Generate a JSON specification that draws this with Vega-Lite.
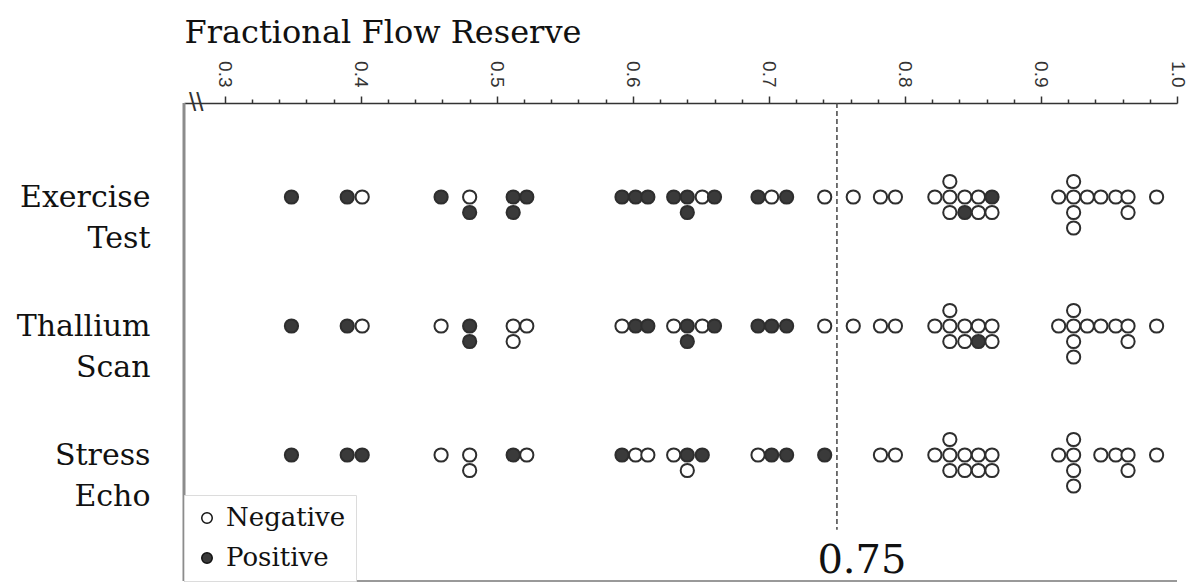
{
  "$schema": "https://vega.github.io/schema/vega-lite/v6.json",
  "autosize": "none",
  "width": 993,
  "height": 478,
  "padding": {"left": 184, "top": 103, "right": 11, "bottom": 2},
  "background": "white",
  "config": {"view": {"stroke": null}},
  "datasets": {
    "dots": [
      {"test": "Exercise Test", "ffr": 0.349, "level": 0, "result": "Positive"},
      {"test": "Exercise Test", "ffr": 0.390, "level": 0, "result": "Positive"},
      {"test": "Exercise Test", "ffr": 0.401, "level": 0, "result": "Negative"},
      {"test": "Exercise Test", "ffr": 0.459, "level": 0, "result": "Positive"},
      {"test": "Exercise Test", "ffr": 0.480, "level": 0, "result": "Negative"},
      {"test": "Exercise Test", "ffr": 0.480, "level": 1, "result": "Positive"},
      {"test": "Exercise Test", "ffr": 0.512, "level": 0, "result": "Positive"},
      {"test": "Exercise Test", "ffr": 0.522, "level": 0, "result": "Positive"},
      {"test": "Exercise Test", "ffr": 0.512, "level": 1, "result": "Positive"},
      {"test": "Exercise Test", "ffr": 0.592, "level": 0, "result": "Positive"},
      {"test": "Exercise Test", "ffr": 0.602, "level": 0, "result": "Positive"},
      {"test": "Exercise Test", "ffr": 0.611, "level": 0, "result": "Positive"},
      {"test": "Exercise Test", "ffr": 0.630, "level": 0, "result": "Positive"},
      {"test": "Exercise Test", "ffr": 0.640, "level": 0, "result": "Positive"},
      {"test": "Exercise Test", "ffr": 0.640, "level": 1, "result": "Positive"},
      {"test": "Exercise Test", "ffr": 0.651, "level": 0, "result": "Negative"},
      {"test": "Exercise Test", "ffr": 0.660, "level": 0, "result": "Positive"},
      {"test": "Exercise Test", "ffr": 0.692, "level": 0, "result": "Positive"},
      {"test": "Exercise Test", "ffr": 0.702, "level": 0, "result": "Negative"},
      {"test": "Exercise Test", "ffr": 0.713, "level": 0, "result": "Positive"},
      {"test": "Exercise Test", "ffr": 0.741, "level": 0, "result": "Negative"},
      {"test": "Exercise Test", "ffr": 0.762, "level": 0, "result": "Negative"},
      {"test": "Exercise Test", "ffr": 0.782, "level": 0, "result": "Negative"},
      {"test": "Exercise Test", "ffr": 0.793, "level": 0, "result": "Negative"},
      {"test": "Exercise Test", "ffr": 0.833, "level": -1, "result": "Negative"},
      {"test": "Exercise Test", "ffr": 0.822, "level": 0, "result": "Negative"},
      {"test": "Exercise Test", "ffr": 0.833, "level": 0, "result": "Negative"},
      {"test": "Exercise Test", "ffr": 0.844, "level": 0, "result": "Negative"},
      {"test": "Exercise Test", "ffr": 0.854, "level": 0, "result": "Negative"},
      {"test": "Exercise Test", "ffr": 0.864, "level": 0, "result": "Positive"},
      {"test": "Exercise Test", "ffr": 0.833, "level": 1, "result": "Negative"},
      {"test": "Exercise Test", "ffr": 0.844, "level": 1, "result": "Positive"},
      {"test": "Exercise Test", "ffr": 0.854, "level": 1, "result": "Negative"},
      {"test": "Exercise Test", "ffr": 0.864, "level": 1, "result": "Negative"},
      {"test": "Exercise Test", "ffr": 0.924, "level": -1, "result": "Negative"},
      {"test": "Exercise Test", "ffr": 0.913, "level": 0, "result": "Negative"},
      {"test": "Exercise Test", "ffr": 0.924, "level": 0, "result": "Negative"},
      {"test": "Exercise Test", "ffr": 0.934, "level": 0, "result": "Negative"},
      {"test": "Exercise Test", "ffr": 0.944, "level": 0, "result": "Negative"},
      {"test": "Exercise Test", "ffr": 0.955, "level": 0, "result": "Negative"},
      {"test": "Exercise Test", "ffr": 0.964, "level": 0, "result": "Negative"},
      {"test": "Exercise Test", "ffr": 0.924, "level": 1, "result": "Negative"},
      {"test": "Exercise Test", "ffr": 0.964, "level": 1, "result": "Negative"},
      {"test": "Exercise Test", "ffr": 0.924, "level": 2, "result": "Negative"},
      {"test": "Exercise Test", "ffr": 0.985, "level": 0, "result": "Negative"},

      {"test": "Thallium Scan", "ffr": 0.349, "level": 0, "result": "Positive"},
      {"test": "Thallium Scan", "ffr": 0.390, "level": 0, "result": "Positive"},
      {"test": "Thallium Scan", "ffr": 0.401, "level": 0, "result": "Negative"},
      {"test": "Thallium Scan", "ffr": 0.459, "level": 0, "result": "Negative"},
      {"test": "Thallium Scan", "ffr": 0.480, "level": 0, "result": "Positive"},
      {"test": "Thallium Scan", "ffr": 0.480, "level": 1, "result": "Positive"},
      {"test": "Thallium Scan", "ffr": 0.512, "level": 0, "result": "Negative"},
      {"test": "Thallium Scan", "ffr": 0.522, "level": 0, "result": "Negative"},
      {"test": "Thallium Scan", "ffr": 0.512, "level": 1, "result": "Negative"},
      {"test": "Thallium Scan", "ffr": 0.592, "level": 0, "result": "Negative"},
      {"test": "Thallium Scan", "ffr": 0.602, "level": 0, "result": "Positive"},
      {"test": "Thallium Scan", "ffr": 0.611, "level": 0, "result": "Positive"},
      {"test": "Thallium Scan", "ffr": 0.630, "level": 0, "result": "Negative"},
      {"test": "Thallium Scan", "ffr": 0.640, "level": 0, "result": "Positive"},
      {"test": "Thallium Scan", "ffr": 0.640, "level": 1, "result": "Positive"},
      {"test": "Thallium Scan", "ffr": 0.651, "level": 0, "result": "Negative"},
      {"test": "Thallium Scan", "ffr": 0.660, "level": 0, "result": "Positive"},
      {"test": "Thallium Scan", "ffr": 0.692, "level": 0, "result": "Positive"},
      {"test": "Thallium Scan", "ffr": 0.702, "level": 0, "result": "Positive"},
      {"test": "Thallium Scan", "ffr": 0.713, "level": 0, "result": "Positive"},
      {"test": "Thallium Scan", "ffr": 0.741, "level": 0, "result": "Negative"},
      {"test": "Thallium Scan", "ffr": 0.762, "level": 0, "result": "Negative"},
      {"test": "Thallium Scan", "ffr": 0.782, "level": 0, "result": "Negative"},
      {"test": "Thallium Scan", "ffr": 0.793, "level": 0, "result": "Negative"},
      {"test": "Thallium Scan", "ffr": 0.833, "level": -1, "result": "Negative"},
      {"test": "Thallium Scan", "ffr": 0.822, "level": 0, "result": "Negative"},
      {"test": "Thallium Scan", "ffr": 0.833, "level": 0, "result": "Negative"},
      {"test": "Thallium Scan", "ffr": 0.844, "level": 0, "result": "Negative"},
      {"test": "Thallium Scan", "ffr": 0.854, "level": 0, "result": "Negative"},
      {"test": "Thallium Scan", "ffr": 0.864, "level": 0, "result": "Negative"},
      {"test": "Thallium Scan", "ffr": 0.833, "level": 1, "result": "Negative"},
      {"test": "Thallium Scan", "ffr": 0.844, "level": 1, "result": "Negative"},
      {"test": "Thallium Scan", "ffr": 0.854, "level": 1, "result": "Positive"},
      {"test": "Thallium Scan", "ffr": 0.864, "level": 1, "result": "Negative"},
      {"test": "Thallium Scan", "ffr": 0.924, "level": -1, "result": "Negative"},
      {"test": "Thallium Scan", "ffr": 0.913, "level": 0, "result": "Negative"},
      {"test": "Thallium Scan", "ffr": 0.924, "level": 0, "result": "Negative"},
      {"test": "Thallium Scan", "ffr": 0.934, "level": 0, "result": "Negative"},
      {"test": "Thallium Scan", "ffr": 0.944, "level": 0, "result": "Negative"},
      {"test": "Thallium Scan", "ffr": 0.955, "level": 0, "result": "Negative"},
      {"test": "Thallium Scan", "ffr": 0.964, "level": 0, "result": "Negative"},
      {"test": "Thallium Scan", "ffr": 0.924, "level": 1, "result": "Negative"},
      {"test": "Thallium Scan", "ffr": 0.964, "level": 1, "result": "Negative"},
      {"test": "Thallium Scan", "ffr": 0.924, "level": 2, "result": "Negative"},
      {"test": "Thallium Scan", "ffr": 0.985, "level": 0, "result": "Negative"},

      {"test": "Stress Echo", "ffr": 0.349, "level": 0, "result": "Positive"},
      {"test": "Stress Echo", "ffr": 0.390, "level": 0, "result": "Positive"},
      {"test": "Stress Echo", "ffr": 0.401, "level": 0, "result": "Positive"},
      {"test": "Stress Echo", "ffr": 0.459, "level": 0, "result": "Negative"},
      {"test": "Stress Echo", "ffr": 0.480, "level": 0, "result": "Negative"},
      {"test": "Stress Echo", "ffr": 0.480, "level": 1, "result": "Negative"},
      {"test": "Stress Echo", "ffr": 0.512, "level": 0, "result": "Positive"},
      {"test": "Stress Echo", "ffr": 0.522, "level": 0, "result": "Negative"},
      {"test": "Stress Echo", "ffr": 0.592, "level": 0, "result": "Positive"},
      {"test": "Stress Echo", "ffr": 0.602, "level": 0, "result": "Negative"},
      {"test": "Stress Echo", "ffr": 0.611, "level": 0, "result": "Negative"},
      {"test": "Stress Echo", "ffr": 0.630, "level": 0, "result": "Negative"},
      {"test": "Stress Echo", "ffr": 0.640, "level": 0, "result": "Positive"},
      {"test": "Stress Echo", "ffr": 0.651, "level": 0, "result": "Positive"},
      {"test": "Stress Echo", "ffr": 0.640, "level": 1, "result": "Negative"},
      {"test": "Stress Echo", "ffr": 0.692, "level": 0, "result": "Negative"},
      {"test": "Stress Echo", "ffr": 0.702, "level": 0, "result": "Positive"},
      {"test": "Stress Echo", "ffr": 0.713, "level": 0, "result": "Positive"},
      {"test": "Stress Echo", "ffr": 0.741, "level": 0, "result": "Positive"},
      {"test": "Stress Echo", "ffr": 0.782, "level": 0, "result": "Negative"},
      {"test": "Stress Echo", "ffr": 0.793, "level": 0, "result": "Negative"},
      {"test": "Stress Echo", "ffr": 0.833, "level": -1, "result": "Negative"},
      {"test": "Stress Echo", "ffr": 0.822, "level": 0, "result": "Negative"},
      {"test": "Stress Echo", "ffr": 0.833, "level": 0, "result": "Negative"},
      {"test": "Stress Echo", "ffr": 0.844, "level": 0, "result": "Negative"},
      {"test": "Stress Echo", "ffr": 0.854, "level": 0, "result": "Negative"},
      {"test": "Stress Echo", "ffr": 0.864, "level": 0, "result": "Negative"},
      {"test": "Stress Echo", "ffr": 0.833, "level": 1, "result": "Negative"},
      {"test": "Stress Echo", "ffr": 0.844, "level": 1, "result": "Negative"},
      {"test": "Stress Echo", "ffr": 0.854, "level": 1, "result": "Negative"},
      {"test": "Stress Echo", "ffr": 0.864, "level": 1, "result": "Negative"},
      {"test": "Stress Echo", "ffr": 0.924, "level": -1, "result": "Negative"},
      {"test": "Stress Echo", "ffr": 0.913, "level": 0, "result": "Negative"},
      {"test": "Stress Echo", "ffr": 0.924, "level": 0, "result": "Negative"},
      {"test": "Stress Echo", "ffr": 0.944, "level": 0, "result": "Negative"},
      {"test": "Stress Echo", "ffr": 0.955, "level": 0, "result": "Negative"},
      {"test": "Stress Echo", "ffr": 0.964, "level": 0, "result": "Negative"},
      {"test": "Stress Echo", "ffr": 0.924, "level": 1, "result": "Negative"},
      {"test": "Stress Echo", "ffr": 0.964, "level": 1, "result": "Negative"},
      {"test": "Stress Echo", "ffr": 0.924, "level": 2, "result": "Negative"},
      {"test": "Stress Echo", "ffr": 0.985, "level": 0, "result": "Negative"}
    ],
    "notes": [
      {"ffr": 0.75, "label": "0.75"}
    ],
    "frame": [
      {"edge": 0.27}
    ]
  },
  "layer": [
    {
      "data": {"name": "frame"},
      "mark": {"type": "rule", "color": "#8c8c8c", "strokeWidth": 3},
      "encoding": {
        "x": {
          "field": "edge", "type": "quantitative",
          "axis": {
            "orient": "top",
            "values": [0.32, 0.34, 0.36, 0.38, 0.42, 0.44, 0.46, 0.48, 0.52, 0.54, 0.56, 0.58, 0.62, 0.64, 0.66, 0.68, 0.72, 0.74, 0.76, 0.78, 0.82, 0.84, 0.86, 0.88, 0.92, 0.94, 0.96, 0.98],
            "labels": false,
            "domain": false,
            "grid": false,
            "title": null,
            "tickSize": 4,
            "tickColor": "#333",
            "tickWidth": 1.5
          }
        }
      }
    },
    {
      "data": {"name": "dots"},
      "mark": {"type": "circle", "size": 175, "stroke": "#2e2e2e", "strokeWidth": 2, "opacity": 1},
      "encoding": {
        "x": {
          "field": "ffr", "type": "quantitative",
          "scale": {"domain": [0.27, 1.0], "nice": false, "zero": false},
          "axis": {
            "orient": "top",
            "values": [0.3, 0.4, 0.5, 0.6, 0.7, 0.8, 0.9, 1.0],
            "format": ".1f",
            "tickSize": 7,
            "tickColor": "#333",
            "tickWidth": 1.5,
            "domainColor": "#333",
            "domainWidth": 1.5,
            "grid": false,
            "labelAngle": 90,
            "labelAlign": "right",
            "labelBaseline": "middle",
            "labelFont": "Liberation Sans",
            "labelFontSize": 19,
            "labelColor": "#333",
            "labelPadding": 9,
            "labelOverlap": false,
            "labelFlush": false,
            "title": "Fractional Flow Reserve",
            "titleFont": "DejaVu Serif",
            "titleFontSize": 32,
            "titleFontWeight": "normal",
            "titleColor": "#111",
            "titleAnchor": "start",
            "titleAlign": "left",
            "titleBaseline": "alphabetic",
            "titleAngle": 0,
            "titleX": 0,
            "titleY": -61
          }
        },
        "y": {
          "field": "test", "type": "nominal",
          "sort": ["Exercise Test", "Thallium Scan", "Stress Echo"],
          "scale": {"type": "point", "domain": ["Exercise Test", "Thallium Scan", "Stress Echo"], "range": [94, 352], "padding": 0},
          "axis": {
            "orient": "left",
            "title": null,
            "ticks": false,
            "tickSize": 0,
            "domain": false,
            "grid": false,
            "labelExpr": "split(datum.label, ' ')",
            "labelFont": "DejaVu Serif",
            "labelFontSize": 30,
            "labelColor": "#111",
            "labelLineHeight": 41,
            "labelAlign": "right",
            "labelBaseline": "middle",
            "labelPadding": 34
          }
        },
        "yOffset": {"field": "level", "type": "quantitative", "scale": {"domain": [0, 1], "range": [0, 15.5]}},
        "fill": {
          "field": "result", "type": "nominal",
          "scale": {"domain": ["Negative", "Positive"], "range": ["#ffffff", "#3a3a3a"]},
          "legend": {
            "title": null,
            "orient": "bottom-left",
            "offset": 0,
            "symbolType": "circle",
            "symbolSize": 110,
            "symbolStrokeColor": "#111",
            "symbolStrokeWidth": 1.5,
            "labelFont": "DejaVu Serif",
            "labelFontSize": 26,
            "labelColor": "#111",
            "labelOffset": 6,
            "rowPadding": 14,
            "padding": 10,
            "strokeColor": "#dcdcdc",
            "fillColor": "#ffffff",
            "encode": {"legend": {"update": {"strokeWidth": {"value": 3}}}}
          }
        }
      }
    },
    {
      "data": {"name": "notes"},
      "mark": {"type": "rule", "color": "#444", "strokeWidth": 1.5, "strokeDash": [5, 3]},
      "encoding": {
        "x": {"field": "ffr", "type": "quantitative", "axis": null},
        "y": {"datum": 1, "type": "quantitative", "scale": {"domain": [0, 1], "nice": false, "zero": false}, "axis": null},
        "y2": {"datum": 0.107}
      }
    },
    {
      "data": {"name": "notes"},
      "mark": {"type": "text", "font": "DejaVu Serif", "fontSize": 40, "color": "#111", "align": "center", "baseline": "alphabetic", "dx": 25},
      "encoding": {
        "x": {"field": "ffr", "type": "quantitative", "axis": null},
        "y": {"datum": 0.017, "type": "quantitative", "scale": {"domain": [0, 1], "nice": false, "zero": false}, "axis": null},
        "text": {"field": "label"}
      }
    },
    {
      "data": {"name": "notes"},
      "mark": {"type": "rule", "color": "#777", "strokeWidth": 1.5},
      "encoding": {
        "y": {"datum": 0, "type": "quantitative", "scale": {"domain": [0, 1], "nice": false, "zero": false}, "axis": null}
      }
    },
    {
      "data": {"name": "notes"},
      "mark": {"type": "text", "text": "\\\\", "font": "Liberation Sans", "fontSize": 26, "color": "#333", "align": "center", "baseline": "middle"},
      "encoding": {
        "x": {"datum": 0.279, "type": "quantitative", "axis": null},
        "y": {"datum": 1, "type": "quantitative", "scale": {"domain": [0, 1], "nice": false, "zero": false}, "axis": null}
      }
    }
  ],
  "resolve": {"scale": {"y": "independent"}, "axis": {"x": "independent", "y": "independent"}}
}
